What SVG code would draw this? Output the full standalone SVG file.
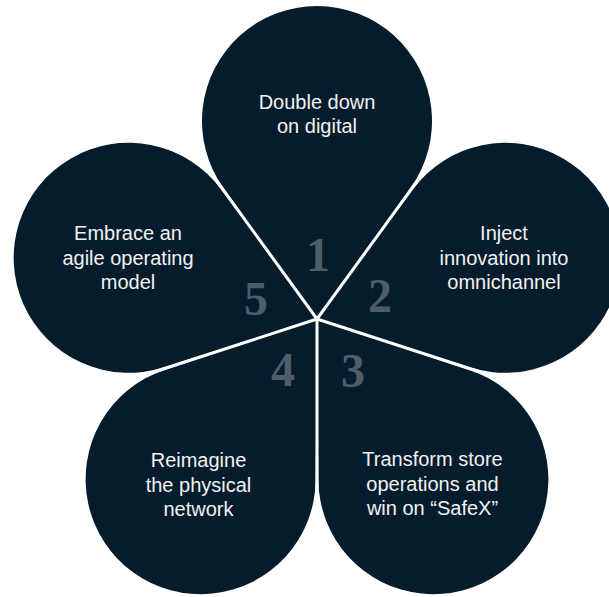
<svg xmlns="http://www.w3.org/2000/svg" width="609" height="597" viewBox="0 0 609 597">
  <defs>
    <!-- one teardrop petal, tip at the origin, pointing up -->
    <path id="petal" d="M0,0 L-93.61,-131.22 A115,115 0 1 1 93.61,-131.22 Z"/>
    <style>
      .petal { fill: #051c2c; }
      .label { font-family: "Liberation Sans", Arial, sans-serif; font-size: 20px; fill: #f2f2f2; text-anchor: middle; }
      .num { font-family: "Liberation Serif", "Times New Roman", serif; font-size: 48px; font-weight: bold; fill: #4e5e69; text-anchor: middle; }
      .sep { stroke: #ffffff; stroke-width: 3; stroke-linecap: butt; }
    </style>
  </defs>
  <rect width="609" height="597" fill="#ffffff"/>

  <g id="petal-1">
    <use href="#petal" class="petal" transform="translate(317,319)"/>
    <text class="label" x="317" y="109">Double down</text>
    <text class="label" x="317" y="133">on digital</text>
    <text class="num" x="318" y="271">1</text>
  </g>

  <g id="petal-2">
    <use href="#petal" class="petal" transform="translate(317,319) rotate(72)"/>
    <text class="label" x="504" y="240">Inject</text>
    <text class="label" x="504" y="264.5">innovation into</text>
    <text class="label" x="504" y="289">omnichannel</text>
    <text class="num" x="380" y="312">2</text>
  </g>

  <g id="petal-3">
    <use href="#petal" class="petal" transform="translate(317,319) rotate(144)"/>
    <text class="label" x="432.5" y="466">Transform store</text>
    <text class="label" x="432.5" y="490.5">operations and</text>
    <text class="label" x="432.5" y="515">win on “SafeX”</text>
    <text class="num" x="353" y="387">3</text>
  </g>

  <g id="petal-4">
    <use href="#petal" class="petal" transform="translate(317,319) rotate(216)"/>
    <text class="label" x="198.5" y="467">Reimagine</text>
    <text class="label" x="198.5" y="491.5">the physical</text>
    <text class="label" x="198.5" y="516">network</text>
    <text class="num" x="283" y="386">4</text>
  </g>

  <g id="petal-5">
    <use href="#petal" class="petal" transform="translate(317,319) rotate(288)"/>
    <text class="label" x="128" y="240">Embrace an</text>
    <text class="label" x="128" y="264.5">agile operating</text>
    <text class="label" x="128" y="289">model</text>
    <text class="num" x="256" y="315">5</text>
  </g>

  <!-- white gaps between neighbouring petals -->
  <g id="connectors" transform="translate(317,319)">
    <line class="sep" x1="0" y1="0" x2="0" y2="-170" transform="rotate(36)"/>
    <line class="sep" x1="0" y1="0" x2="0" y2="-170" transform="rotate(108)"/>
    <line class="sep" x1="0" y1="0" x2="0" y2="-170" transform="rotate(180)"/>
    <line class="sep" x1="0" y1="0" x2="0" y2="-170" transform="rotate(252)"/>
    <line class="sep" x1="0" y1="0" x2="0" y2="-170" transform="rotate(324)"/>
  </g>
</svg>
